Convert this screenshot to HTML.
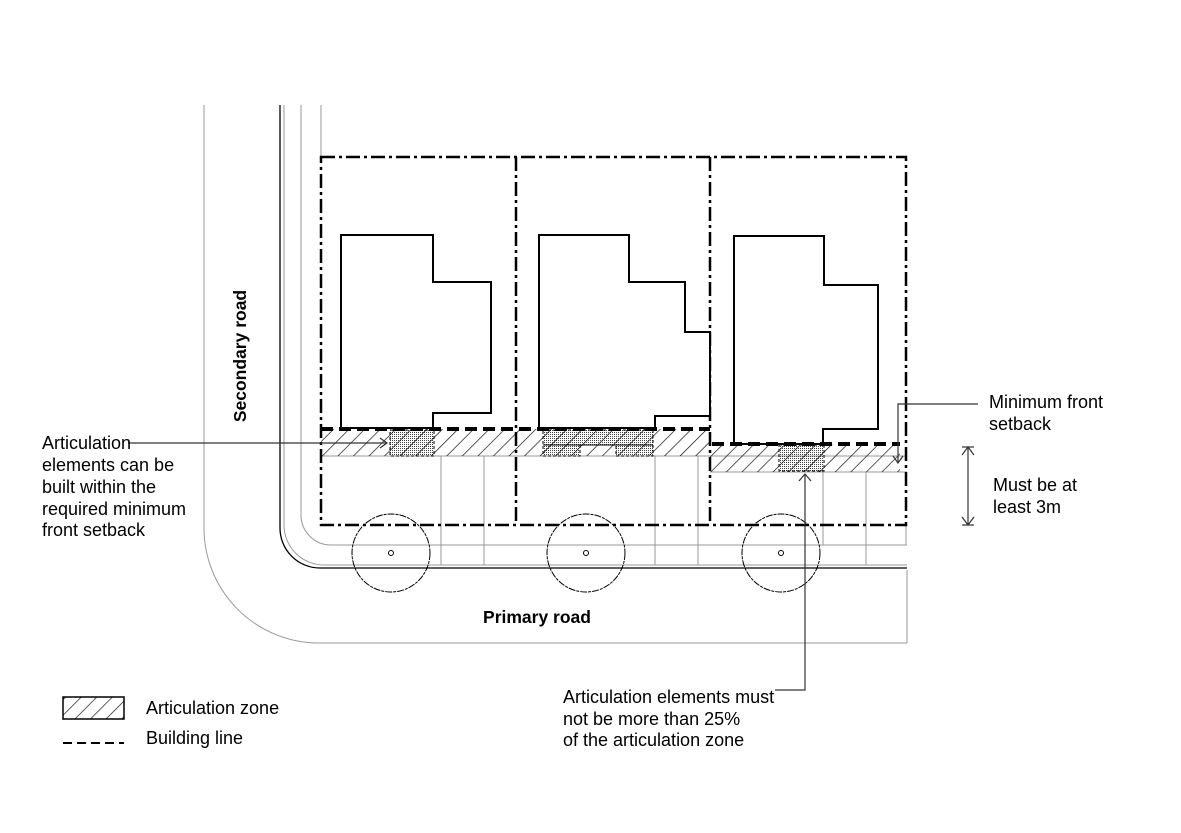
<!DOCTYPE html>
<html><head><meta charset="utf-8"><style>
html,body{margin:0;padding:0;background:#fff}
svg{display:block}
text{font-family:"Liberation Sans",Arial,sans-serif;fill:#000}
</style></head><body>
<svg width="1181" height="833" viewBox="0 0 1181 833" xmlns="http://www.w3.org/2000/svg">
<defs>
<pattern id="hatch" patternUnits="userSpaceOnUse" width="11" height="11" patternTransform="rotate(45)">
<line x1="0" y1="0" x2="0" y2="11" stroke="#000" stroke-width="1.3"/>
</pattern>
<pattern id="dots" patternUnits="userSpaceOnUse" width="2" height="2">
<rect x="0" y="0" width="1" height="1" fill="#444"/>
</pattern>
</defs>
<!-- roads -->
<g fill="none" stroke="#999" stroke-width="1">
<path d="M204 105 V528 A115 115 0 0 0 319 643 H907"/>
<path d="M284 105 V525 A40 40 0 0 0 324 565 H907"/>
<path d="M301 105 V515 A30 30 0 0 0 331 545 H907"/>
<path d="M321 105 V157"/>
<line x1="907" y1="570" x2="907" y2="643"/>
<line x1="321" y1="456" x2="907" y2="456"/>
<line x1="710" y1="472" x2="907" y2="472"/>
<line x1="441" y1="456" x2="441" y2="545"/>
<line x1="484" y1="456" x2="484" y2="545"/>
<line x1="655" y1="456" x2="655" y2="545"/>
<line x1="698" y1="456" x2="698" y2="545"/>
<line x1="823" y1="472" x2="823" y2="545"/>
<line x1="866" y1="472" x2="866" y2="545"/>
<line x1="441" y1="545" x2="441" y2="565"/>
<line x1="484" y1="545" x2="484" y2="565"/>
<line x1="655" y1="545" x2="655" y2="565"/>
<line x1="698" y1="545" x2="698" y2="565"/>
<line x1="866" y1="545" x2="866" y2="565"/>
<line x1="906" y1="525" x2="906" y2="545"/>
</g>
<path d="M280 105 V528 A40 40 0 0 0 320 568 H907" fill="none" stroke="#000" stroke-width="1.3"/>
<!-- articulation zones -->
<g fill="url(#dots)" stroke="#000" stroke-width="1" stroke-dasharray="3,2">
<rect x="390" y="430" width="44" height="26"/>
<rect x="779" y="445" width="45" height="26"/>
<path d="M543 430 H653 V456 H616 V445 H580 V456 H543 Z"/>
</g>
<line x1="543" y1="445" x2="653" y2="445" stroke="#000" stroke-width="1"/>
<rect x="321" y="429" width="389" height="27" fill="url(#hatch)"/>
<rect x="710" y="444" width="190" height="28" fill="url(#hatch)"/>
<!-- lots -->
<g fill="none" stroke="#000" stroke-width="2.5" stroke-dasharray="14,4,3,4">
<rect x="321" y="157" width="585" height="368"/>
<line x1="516" y1="157" x2="516" y2="525"/>
<line x1="710" y1="157" x2="710" y2="525"/>
</g>
<!-- houses -->
<g fill="#fff" stroke="#000" stroke-width="2">
<path d="M341 235 H433 V282 H491 V413 H433 V428 H341 Z"/>
<path d="M539 235 H629 V282 H685 V332 H710 V416 H655 V428 H539 Z"/>
<path d="M734 236 H824 V285 H878 V429 H823 V444 H734 Z"/>
</g>
<!-- building line -->
<g stroke="#000" stroke-width="4" stroke-dasharray="12,6" fill="none">
<line x1="321" y1="429" x2="710" y2="429"/>
<line x1="712" y1="444" x2="900" y2="444"/>
</g>
<!-- trees -->
<g fill="none" stroke="#000" stroke-width="1">
<circle cx="391" cy="553" r="39" stroke-dasharray="7,1,3,1"/>
<circle cx="586" cy="553" r="39" stroke-dasharray="7,1,3,1"/>
<circle cx="781" cy="553" r="39" stroke-dasharray="7,1,3,1"/>
<circle cx="391" cy="553" r="2.5"/><circle cx="586" cy="553" r="2.5"/><circle cx="781" cy="553" r="2.5"/>
</g>
<!-- leaders -->
<g fill="none" stroke="#333" stroke-width="1.2">
<line x1="128" y1="443" x2="387" y2="443"/>
<polyline points="380,438 387,443 380,448"/>
<polyline points="978,404 898,404 898,463"/>
<polyline points="893,456 898,463 903,456"/>
<line x1="968" y1="447" x2="968" y2="525"/>
<polyline points="962,455 968,447 974,455"/>
<polyline points="962,517 968,525 974,517"/>
<line x1="962" y1="447" x2="974" y2="447"/>
<line x1="962" y1="525" x2="974" y2="525"/>
<polyline points="805,474 805,690 775,690"/>
<polyline points="799,481 805,474 811,481"/>
</g>
<!-- labels -->
<text x="246" y="356" font-size="17.5" font-weight="bold" transform="rotate(-90 246 356)" text-anchor="middle">Secondary road</text>
<text x="537" y="623" font-size="17.5" font-weight="bold" text-anchor="middle">Primary road</text>
<g font-size="18">
<text x="42" y="449">Articulation</text>
<text x="42" y="471">elements can be</text>
<text x="42" y="493">built within the</text>
<text x="42" y="515">required minimum</text>
<text x="42" y="536">front setback</text>
<text x="989" y="408">Minimum front</text>
<text x="989" y="430">setback</text>
<text x="993" y="491">Must be at</text>
<text x="993" y="513">least 3m</text>
<text x="563" y="703">Articulation elements must</text>
<text x="563" y="725">not be more than 25%</text>
<text x="563" y="746">of the articulation zone</text>
<text x="146" y="714">Articulation zone</text>
<text x="146" y="744">Building line</text>
</g>
<rect x="63" y="697" width="61" height="22" fill="url(#hatch)" stroke="#000" stroke-width="1.5"/>
<line x1="63" y1="743" x2="124" y2="743" stroke="#000" stroke-width="2" stroke-dasharray="9,5"/>
</svg>
</body></html>
